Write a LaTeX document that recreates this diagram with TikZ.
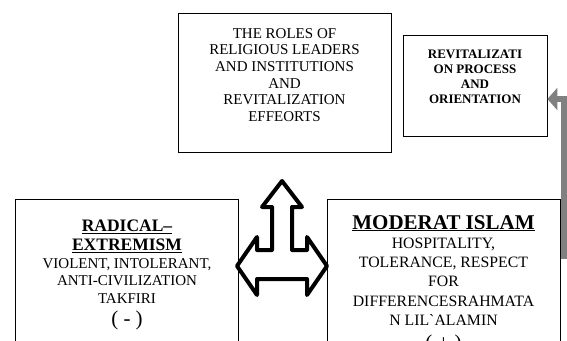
\documentclass[tikz,border=0pt]{standalone}
\usepackage{fontspec}
\setmainfont{Liberation Serif}
\usetikzlibrary{arrows.meta, positioning}

\tikzset{
  box/.style={draw, rectangle, line width=0.8pt, inner sep=0pt},
  boxtext/.style={align=center, inner sep=0pt, anchor=north},
  sign/.style={inner sep=0pt, anchor=base, font=\fontsize{21}{23}\selectfont},
  teearrow/.style={draw=black, fill=white, line width=4pt, line join=round},
  flowarrow/.style={draw=black!50, line width=6pt, -{Triangle[width=22pt,length=10pt]}}
}

\begin{document}
\begin{tikzpicture}[x=1pt, y=-1pt]
  \useasboundingbox (0,0) rectangle (567,340);
  \clip (0,0) rectangle (567,340);

  % boxes
  \node (roles) [box, minimum width=213pt, minimum height=139pt] at (284.5,82.5) {};
  \node (revit) [box, minimum width=144pt, minimum height=101pt] at (475,85.5) {};
  \node (radical) [box, minimum width=223pt, minimum height=201pt] at (126.5,299.5) {};
  \node (moderat) [box, minimum width=233pt, minimum height=201pt] at (443.5,299.5) {};

  % texts
  \node (rolestext) [boxtext, font=\fontsize{15}{16.7}\selectfont] at (284.5,28)
    {THE ROLES OF\\RELIGIOUS LEADERS\\AND INSTITUTIONS\\AND\\REVITALIZATION\\EFFEORTS};
  \node (revittext) [boxtext, font=\bfseries\fontsize{13}{15}\selectfont] at (475,49.5)
    {REVITALIZATI\\ON PROCESS\\AND\\ORIENTATION};

  \node (radtitle) [boxtext, font=\bfseries\fontsize{17.5}{19}\selectfont] at (127,219.5)
    {\underline{RADICAL–}\\\underline{EXTREMISM}};
  \node (radtext) [boxtext, font=\fontsize{15}{17.5}\selectfont] at (127,258)
    {VIOLENT, INTOLERANT,\\ANTI-CIVILIZATION\\TAKFIRI};
  \node (radsign) [sign] at (127,325) {( - )};

  \node (modtitle) [sign, font=\bfseries\fontsize{21}{23}\selectfont] at (443.5,229)
    {\underline{MODERAT ISLAM}};
  \node (modtext) [boxtext, font=\fontsize{15.8}{19.3}\selectfont] at (443.5,237.5)
    {HOSPITALITY,\\TOLERANCE, RESPECT\\FOR\\DIFFERENCESRAHMATA\\N LIL\textasciigrave ALAMIN};
  \node (modsign) [sign] at (443.5,349) {( + )};

  % three-way arrow
  \coordinate (hub) at (282,266);
  \draw [teearrow, shift={(hub)}]
    (0,-85) -- (20,-59) -- (10,-59) -- (10,-16) -- (25,-16) -- (25,-29)
    -- (45,0) -- (25,29) -- (25,13) -- (-25,13) -- (-25,29) -- (-45,0)
    -- (-25,-29) -- (-25,-16) -- (-10,-16) -- (-10,-59) -- (-20,-59) -- cycle;

  % feedback arrow
  \draw [flowarrow] ([xshift=4pt, yshift=-60pt]moderat.north east) |- ([yshift=-13.5pt]revit.east);
\end{tikzpicture}
\end{document}
